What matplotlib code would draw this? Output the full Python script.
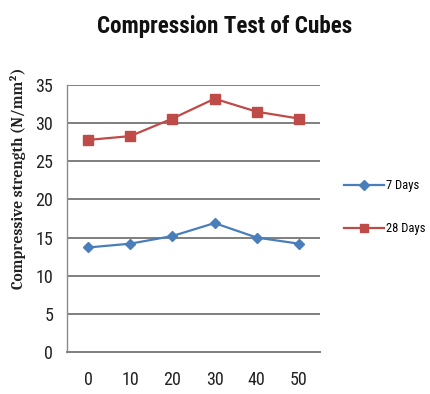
import matplotlib
matplotlib.use("Agg")
import matplotlib.pyplot as plt
from matplotlib.lines import Line2D

categories = ["0", "10", "20", "30", "40", "50"]
days7 = [13.7, 14.2, 15.2, 16.9, 15.0, 14.2]
days28 = [27.8, 28.3, 30.6, 33.2, 31.5, 30.6]
yticks = [0, 5, 10, 15, 20, 25, 30, 35]

SANS = "Roboto Condensed"
SERIF = "Caladea"

fig = plt.figure(figsize=(4.30, 3.94), dpi=100)
ax = fig.add_axes([67/430, 1-352/394, (320-67)/430, (352-85)/394])

x = [i + 0.5 for i in range(len(categories))]
c7 = "#4a7ebb"
c28 = "#be4b48"
ax.plot(x, days7, color=c7, marker="D", markersize=5.5, lw=1.6)
ax.plot(x, days28, color=c28, marker="s", markersize=6.5, lw=1.6)

ax.set_xlim(0, 6)
ax.set_ylim(0, 35)
ax.set_yticks(yticks)
ax.set_xticks(x)
ax.set_xticklabels(categories)
for y in yticks[1:]:
    ax.axhline(y, color="#7f7f7f", lw=1.4, zorder=0)
for s in ["top", "right"]:
    ax.spines[s].set_visible(False)
ax.spines["left"].set_color("#8a8a8a")
ax.spines["bottom"].set_color("#7f7f7f")
ax.spines["left"].set_linewidth(1.0)
ax.spines["bottom"].set_linewidth(1.4)
ax.tick_params(axis="both", length=0, labelsize=13, colors="#222222")
ax.tick_params(axis="y", pad=10)
ax.tick_params(axis="x", pad=14)
for lab in ax.get_xticklabels() + ax.get_yticklabels():
    lab.set_fontfamily(SANS)

title = fig.text(225/430, 1-27/394, "Compression Test of Cubes", ha="center", va="center",
                 fontsize=18, fontweight="bold", family=SANS, color="#111111")
ylab = fig.text(18/430, 1-178/394, "Compressive strength (N/mm\u00b2)", rotation=90,
                ha="center", va="center", fontsize=9, fontweight="bold", family=SERIF,
                color="#222222")

handles = [Line2D([], [], color=c7, marker="D", markersize=5, lw=1.6),
           Line2D([], [], color=c28, marker="s", markersize=6, lw=1.6)]
leg = fig.legend(handles, ["7 Days", "28 Days"], loc="center left",
                 bbox_to_anchor=(344/430, 1-207/394), frameon=False,
                 borderaxespad=0, borderpad=0,
                 prop={"family": SANS, "size": 9}, labelspacing=2.4,
                 handlelength=3.2, handletextpad=0.2)

# fit text sizes to the reference's measured extents
fig.canvas.draw()
r = fig.canvas.get_renderer()
w = title.get_window_extent(r).width
title.set_fontsize(18 * 256 / w)
h = ylab.get_window_extent(r).height
ylab.set_fontsize(9 * 222 / h)

fig.savefig("out.png", dpi=100)
